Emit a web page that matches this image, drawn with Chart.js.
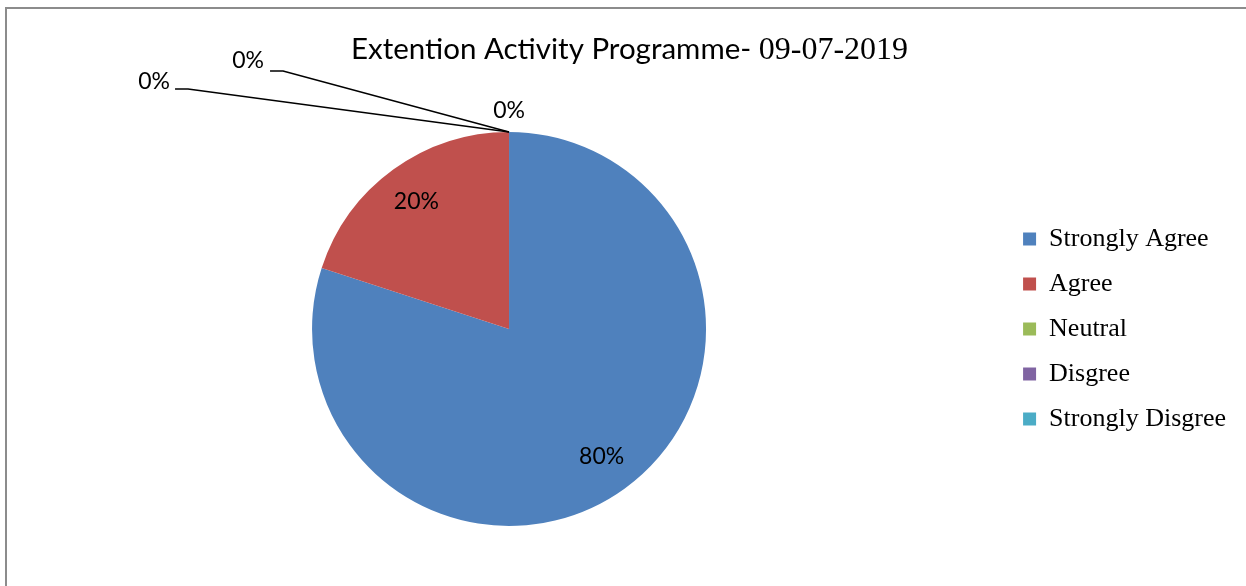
<!DOCTYPE html>
<html>
<head>
<meta charset="utf-8">
<script src="https://cdn.jsdelivr.net/npm/chart.js@4.4.1/dist/chart.umd.min.js"></script>
<style>
  body { margin: 0; background: #fff; }
  canvas { display: block; }
</style>
</head>
<body>
<canvas id="feedback" width="1246" height="586"></canvas>
<script>
const categories = ["Strongly Agree", "Agree", "Neutral", "Disgree", "Strongly Disgree"];
const responses = [80, 20, 0, 0, 0];
const sliceColors = ["#4F81BD", "#C0504D", "#9BBB59", "#8064A2", "#4BACC6"];
const titleMain = "Extention Activity Programme- ";
const titleDate = "09-07-2019";

// where the 0% labels sit, relative to the point where the empty slices meet the rim
const zeroSpots = [
    { dx: 0, dy: -21 },
    { dx: -245, dy: -71, elbow: [-226, -61], end: -239 },
    { dx: -339, dy: -50, elbow: [-321, -43], end: -334 },
];

const frame = {
    id: "frame",
    beforeDraw(chart) {
        const ctx = chart.ctx;
        ctx.save();
        ctx.fillStyle = "#fff";
        ctx.fillRect(0, 0, chart.width, chart.height);
        ctx.strokeStyle = "#8c8c8c";
        ctx.lineWidth = 2;
        ctx.strokeRect(6, 8, chart.width + 20, chart.height + 20);
        ctx.restore();
    },
};

const mixedTitle = {
    id: "mixedTitle",
    afterDraw(chart) {
        const ctx = chart.ctx;
        ctx.save();
        const sans = "29.5px Lato";
        const serif = "32px 'Liberation Serif'";
        ctx.font = sans;
        const w1 = ctx.measureText(titleMain).width;
        ctx.font = serif;
        const w2 = ctx.measureText(titleDate).width;
        const x = 629.5 - (w1 + w2) / 2;
        const y = 59;
        ctx.fillStyle = "#000";
        ctx.textBaseline = "alphabetic";
        ctx.textAlign = "left";
        ctx.font = sans;
        ctx.fillText(titleMain, x, y);
        ctx.font = serif;
        ctx.fillText(titleDate, x + w1, y);
        ctx.restore();
    },
};

const sliceLabels = {
    id: "sliceLabels",
    afterDatasetsDraw(chart) {
        const ctx = chart.ctx;
        const meta = chart.getDatasetMeta(0);
        const values = chart.data.datasets[0].data;
        const total = values.reduce((a, b) => a + b, 0);
        let z = 0;
        ctx.save();
        ctx.font = "23px Lato";
        ctx.fillStyle = "#000";
        ctx.strokeStyle = "#000";
        ctx.lineWidth = 1.5;
        ctx.textBaseline = "middle";
        meta.data.forEach((arc, i) => {
            const text = Math.round(values[i] / total * 100) + "%";
            if (values[i] > 0) {
                const mid = (arc.startAngle + arc.endAngle) / 2;
                const r = arc.outerRadius * 0.8;
                ctx.textAlign = "center";
                ctx.fillText(text, arc.x + Math.cos(mid) * r, arc.y + Math.sin(mid) * r);
                return;
            }
            const ax = arc.x + Math.cos(arc.startAngle) * arc.outerRadius;
            const ay = arc.y + Math.sin(arc.startAngle) * arc.outerRadius;
            const spot = zeroSpots[z++];
            if (spot.elbow) {
                ctx.beginPath();
                ctx.moveTo(ax, ay);
                ctx.lineTo(ax + spot.elbow[0], ay + spot.elbow[1]);
                ctx.lineTo(ax + spot.end, ay + spot.elbow[1]);
                ctx.stroke();
                ctx.textAlign = "right";
            } else {
                ctx.textAlign = "center";
            }
            ctx.fillText(text, ax + spot.dx, ay + spot.dy);
        });
        ctx.restore();
    },
};

new Chart(document.getElementById("feedback"), {
    type: "pie",
    data: {
        labels: categories,
        datasets: [
            {
                data: responses,
                backgroundColor: sliceColors,
                borderWidth: 0,
            },
        ],
    },
    options: {
        responsive: false,
        animation: false,
        events: [],
        layout: {
            padding: { left: 14, right: 10, top: 132, bottom: 60 },
        },
        plugins: {
            title: { display: false },
            tooltip: { enabled: false },
            legend: {
                position: "right",
                labels: {
                    boxWidth: 13,
                    boxHeight: 13,
                    padding: 19,
                    color: "#000",
                    font: { family: "'Liberation Serif'", size: 26 },
                },
            },
        },
    },
    plugins: [frame, mixedTitle, sliceLabels],
});
</script>
</body>
</html>
